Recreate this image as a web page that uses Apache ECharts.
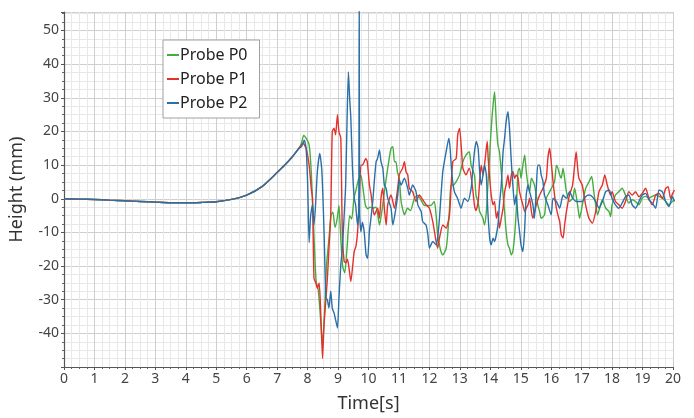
<!DOCTYPE html>
<html><head><meta charset="utf-8">
<script src="https://cdn.jsdelivr.net/npm/echarts@6/dist/echarts.min.js"></script>
<style>html,body{margin:0;padding:0;background:#fff}#c{width:694px;height:418px}</style>
</head><body><div id="c"></div>
<script>
// shared quiet ramp before the wave arrives
var rampTime   = [0,0.5,1,1.5,2,2.5,3,3.5,4,4.5,5,5.5,6,6.5,7,7.25,7.5,7.7];
var rampHeight = [0,-0.1,-0.2,-0.4,-0.6,-0.8,-1.0,-1.2,-1.2,-1.1,-0.9,-0.2,1.1,3.6,7.8,10,12.5,14.8];

var p0Time = [7.8,7.87,7.95,8.05,8.12,8.2,8.28,8.35,8.42,8.49,8.55,8.62,8.7,8.77,8.83,8.9,8.97,9.03,9.08,9.15,9.22,9.3,9.38,9.45,9.52,9.6,9.68,9.75,9.82,9.9,9.97,10.05,10.14,10.25,10.36,10.45,10.52,10.63,10.74,10.8,10.85,10.9,10.95,11.01,11.07,11.12,11.18,11.28,11.38,11.51,11.62,11.73,11.84,11.95,12.05,12.16,12.22,12.27,12.33,12.38,12.44,12.55,12.6,12.66,12.71,12.79,12.88,12.99,13.1,13.2,13.31,13.37,13.48,13.53,13.6,13.65,13.76,13.81,13.87,13.92,13.98,14.03,14.09,14.14,14.2,14.25,14.3,14.36,14.42,14.47,14.52,14.58,14.63,14.69,14.74,14.8,14.85,14.91,14.96,15.01,15.07,15.13,15.18,15.24,15.29,15.35,15.45,15.56,15.62,15.67,15.78,15.84,15.95,16.11,16.17,16.22,16.28,16.33,16.39,16.44,16.5,16.6,16.71,16.77,16.88,16.93,17.0,17.13,17.24,17.33,17.4,17.46,17.52,17.62,17.68,17.79,17.9,17.95,18.0,18.11,18.22,18.33,18.44,18.55,18.66,18.77,18.88,18.99,19.1,19.21,19.32,19.43,19.54,19.65,19.76,19.87,19.98,20.05];
var p0Height = [16.5,18.8,18,16,8,-9,-24.6,-27,-35,-43,-35,-20,-12,-4.8,-4,-8.5,-6,-2,-10,-20,-22,-14,-5,-6,0,3,6,7,3,-2,-3,-2.5,-2.8,-2.5,-7.8,-3,2,9,15,15.5,11,11,8,6,-0.8,-3,-4.8,-2.8,-3.5,0.2,1,-0.5,-2,-2,-2,-0.8,-4.8,-10.7,-13.7,-15.7,-16.7,-14.7,-10.7,-2.8,4.1,4.1,5.1,7.1,11,13,14,10,7,1.1,-1,-3.8,-5.8,-7.8,-3.8,4.1,13,21,27.8,31.8,22,16,14,8.1,1.1,-3.8,-9.7,-13.7,-14.7,-16.7,-15.7,-10.7,-3.8,8.1,9.1,6.1,10,13,8.1,4.1,2.1,6.1,4.1,-1.8,-3.8,-5.8,-4.8,0.2,2.1,5.1,10,9.1,7.1,6.1,9.1,6.1,2.1,-0.8,0.2,3.1,-2.8,-5.8,-3,3.1,5,6.6,2,-1.8,-4.8,-1.8,-0.3,-2.8,-3.8,-5.3,-1.8,1.1,2.1,3.1,1.1,-1.3,-0.3,-0.8,-1.8,0.2,0.7,0.2,0.7,1.1,0.7,0.2,-0.8,-1.8,-0.8,-0.3];

var p1Time = [7.8,7.85,7.95,8.05,8.12,8.16,8.21,8.27,8.32,8.38,8.43,8.49,8.54,8.6,8.65,8.7,8.76,8.81,8.87,8.92,8.98,9.03,9.09,9.14,9.2,9.26,9.31,9.36,9.42,9.48,9.53,9.59,9.64,9.7,9.75,9.8,9.86,9.91,9.96,10.03,10.08,10.14,10.19,10.3,10.36,10.41,10.47,10.52,10.58,10.63,10.74,10.85,10.96,11.01,11.12,11.18,11.23,11.29,11.34,11.45,11.56,11.67,11.78,11.89,12.0,12.11,12.22,12.27,12.33,12.44,12.55,12.66,12.71,12.77,12.88,12.93,12.99,13.05,13.1,13.2,13.31,13.42,13.48,13.53,13.6,13.65,13.7,13.76,13.81,13.87,13.9,13.93,13.98,14.03,14.09,14.14,14.2,14.25,14.3,14.36,14.42,14.47,14.52,14.58,14.63,14.69,14.74,14.8,14.85,14.91,14.96,15.01,15.07,15.13,15.18,15.24,15.29,15.35,15.4,15.51,15.62,15.73,15.84,15.89,15.95,16.0,16.06,16.11,16.17,16.22,16.28,16.33,16.39,16.44,16.5,16.6,16.7,16.77,16.82,16.87,16.91,17.02,17.13,17.24,17.35,17.46,17.57,17.68,17.76,17.84,17.95,18.0,18.11,18.22,18.33,18.44,18.55,18.66,18.77,18.88,18.99,19.1,19.21,19.32,19.43,19.54,19.65,19.76,19.84,19.92,19.99,20.05];
var p1Height = [16,16.5,15,10,3,0.2,-23.6,-25,-26.6,-25,-33.5,-47.5,-37.4,-30,-23.6,-15,-4.8,19.9,21,19,25,19.9,18,-9.7,-18.6,-19,-18,-20.6,-24.6,-20,-15.7,-14,-10,0,10,10,11,12,11,4.1,1.5,-2.8,-4.8,-2.8,-5.8,0.2,3.1,-2.8,-7.8,-1.8,1.1,-2.8,3.1,7.1,9.1,11,8.1,7.1,3.1,2.1,-0.8,1.1,-0.3,-1.8,-2.8,-6.8,-12.7,-14.7,-11.7,-7.8,-8.7,-4.8,3.1,11,12,19,20.9,15,9.1,7.1,9.1,3.1,-2,-3.5,-1,5.1,10,7.1,10,15,17,12,6.1,1.1,-1.8,-0.8,-5.8,-3.8,-8.7,-5.8,-2.8,2.1,4.1,7.1,3.1,7.1,8.1,6.1,7.1,6.1,2.1,0.2,-1.8,-3.8,-2.8,-1.8,0.2,-3.8,-5.8,-1.8,1.1,3.1,6.1,12,15,11,5.1,1.1,-2.8,-4.8,-6.8,-10.7,-11.7,-7.8,-3.8,1.1,4,10,14,9,6.1,4,-1.8,-5.8,-7.3,-3.8,2.1,4.1,7.1,4.1,1.1,2.1,-0.8,-1.8,-2.8,-0.8,2.1,1.1,2.1,0.6,1.6,3.1,0.1,-1.8,1.1,1.6,0.1,3.1,3.6,0.1,1.6,2.6];

var p2Time = [7.8,7.89,7.95,8.0,8.05,8.1,8.16,8.21,8.26,8.32,8.4,8.47,8.54,8.6,8.65,8.7,8.76,8.81,8.87,8.92,8.98,9.03,9.09,9.14,9.2,9.25,9.3,9.34,9.38,9.42,9.47,9.53,9.58,9.64,9.68,9.695,9.71,9.75,9.8,9.86,9.92,9.97,10.03,10.08,10.14,10.19,10.25,10.3,10.36,10.41,10.47,10.52,10.58,10.63,10.74,10.8,10.9,10.96,11.01,11.07,11.18,11.29,11.34,11.45,11.56,11.62,11.73,11.78,11.89,11.95,12.0,12.05,12.11,12.22,12.27,12.33,12.44,12.55,12.64,12.68,12.74,12.82,12.93,13.04,13.15,13.26,13.37,13.42,13.48,13.54,13.6,13.65,13.7,13.76,13.81,13.87,13.92,13.98,14.03,14.09,14.14,14.25,14.3,14.36,14.42,14.47,14.52,14.58,14.63,14.69,14.74,14.8,14.85,14.91,14.96,15.01,15.07,15.13,15.18,15.24,15.29,15.4,15.45,15.51,15.56,15.62,15.67,15.73,15.78,15.89,16.0,16.06,16.17,16.28,16.39,16.5,16.6,16.71,16.82,16.93,17.02,17.13,17.24,17.35,17.46,17.57,17.68,17.79,17.9,18.0,18.11,18.22,18.33,18.44,18.55,18.66,18.77,18.88,18.99,19.1,19.21,19.32,19.43,19.54,19.65,19.76,19.87,19.98,20.05];
var p2Height = [15.5,17.4,15,5,-13,-5,-1.8,-7.8,-2,8,13.5,8,-9.7,-29.5,-30,-32.5,-27.5,-32.5,-34,-36,-38.4,-29.5,-19.6,-15,-5,4.1,25,37.7,30,23.9,10,0.2,-2,-7.8,-4,60,-4,-9.8,-7,-10,-16.7,-17.7,-9.7,-5.8,-0.8,5.1,11,12,14.5,11,9.1,4.1,3.1,0.2,-2.8,-7.8,-2.8,1.1,5.6,4.1,6.1,3.1,1.1,4.1,2.1,-1.8,-3.8,-6.8,-7.8,-10.7,-14.7,-13.7,-12.7,-13.7,-11.7,-5.8,8.1,14,18,15,7.1,2.1,0,-2.8,0.2,-0.8,3.1,8.1,14,17,15,8.1,4.1,7,10,7,-3.8,-11.7,-13.7,-11.7,-12.7,-7.8,-1.8,4.1,14,18,22.9,25.9,21,11,4.1,-1.8,1.1,-5.8,-9.7,-13.7,-15.7,-8.7,1.1,4.1,2.1,-1.8,-5.8,3,10,10,7.1,5.1,1.1,-1.8,-4.8,0.2,-0.8,-2.8,1.1,0.1,2.1,0.1,-0.8,-0.8,-0.8,0.6,1.1,0.6,-0.8,-2.8,-0.8,2.1,2.6,0.1,-1.8,-2.8,-1.3,0.6,1.1,-1.8,-2.8,-0.8,1.1,1.6,-0.3,-1.3,-2.8,2.6,2.1,-0.8,-2.3,0.6,-0.8];

var seriesNames = ['Probe P0','Probe P1','Probe P2'];
var xTicks = [0,1,2,3,4,5,6,7,8,9,10,11,12,13,14,15,16,17,18,19,20];
var yTicks = [-40,-30,-20,-10,0,10,20,30,40,50];

function pairs(t, v){
  var out = [];
  rampTime.forEach(function(x,i){ out.push([x, rampHeight[i]]); });
  t.forEach(function(x,i){ out.push([x, v[i]]); });
  return out;
}

var colors = ['#45ad3f','#e3312c','#2a70a8'];
var font = 'Noto Sans';
var chart = echarts.init(document.getElementById('c'), null, {renderer:'canvas'});
chart.setOption({
  animation:false,
  backgroundColor:'#ffffff',
  color: colors,
  grid:{left:63, right:21, top:12, bottom:50, containLabel:false},
  legend:{
    data: seriesNames, orient:'vertical', left:163, top:40,
    icon:'rect', itemWidth:12, itemHeight:2, itemGap:6,
    padding:[6,12,6,4], borderColor:'#a0a0a0', borderWidth:1, backgroundColor:'#ffffff',
    textStyle:{fontFamily:font, fontSize:16, color:'#222', lineHeight:18, padding:[0,0,0,-4]}
  },
  xAxis:{
    type:'value', min:0, max:20, interval:1,
    name:'Time[s]', nameLocation:'middle', nameGap:28,
    nameTextStyle:{fontFamily:font, fontSize:18, color:'#333'},
    axisLine:{show:true, onZero:false, lineStyle:{color:'#555', width:1.2}},
    axisTick:{show:true, length:3, lineStyle:{color:'#555'}},
    minorTick:{show:true, splitNumber:4, length:2, lineStyle:{color:'#666'}},
    axisLabel:{fontFamily:font, fontSize:14, color:'#444', margin:5,
      formatter:function(v){ return xTicks.indexOf(v)>=0 ? String(v) : ''; }},
    splitLine:{show:true, lineStyle:{color:'#cfcfcf', width:1}},
    minorSplitLine:{show:true, lineStyle:{color:'#e8e8e8', width:1}}
  },
  yAxis:{
    type:'value', min:-50, max:55.5, interval:10,
    name:'Height (mm)', nameLocation:'middle', nameGap:38, nameRotate:90,
    nameTextStyle:{fontFamily:font, fontSize:18, color:'#333'},
    axisLine:{show:true, onZero:false, lineStyle:{color:'#555', width:1.2}},
    axisTick:{show:true, length:3, lineStyle:{color:'#555'}},
    minorTick:{show:true, splitNumber:4, length:2, lineStyle:{color:'#666'}},
    axisLabel:{fontFamily:font, fontSize:14, color:'#444', margin:5,
      formatter:function(v){ return yTicks.indexOf(v)>=0 ? String(v) : ''; }},
    splitLine:{show:true, lineStyle:{color:'#cfcfcf', width:1}},
    minorSplitLine:{show:true, lineStyle:{color:'#e8e8e8', width:1}}
  },
  series:[
    {name:seriesNames[0], type:'line', showSymbol:false, symbol:'none', clip:true, smooth:0.2, lineStyle:{width:1.4}, data:pairs(p0Time,p0Height)},
    {name:seriesNames[1], type:'line', showSymbol:false, symbol:'none', clip:true, smooth:0.2, lineStyle:{width:1.4}, data:pairs(p1Time,p1Height)},
    {name:seriesNames[2], type:'line', showSymbol:false, symbol:'none', clip:true, smooth:0.2, lineStyle:{width:1.4}, data:pairs(p2Time,p2Height)}
  ]
});
</script></body></html>
